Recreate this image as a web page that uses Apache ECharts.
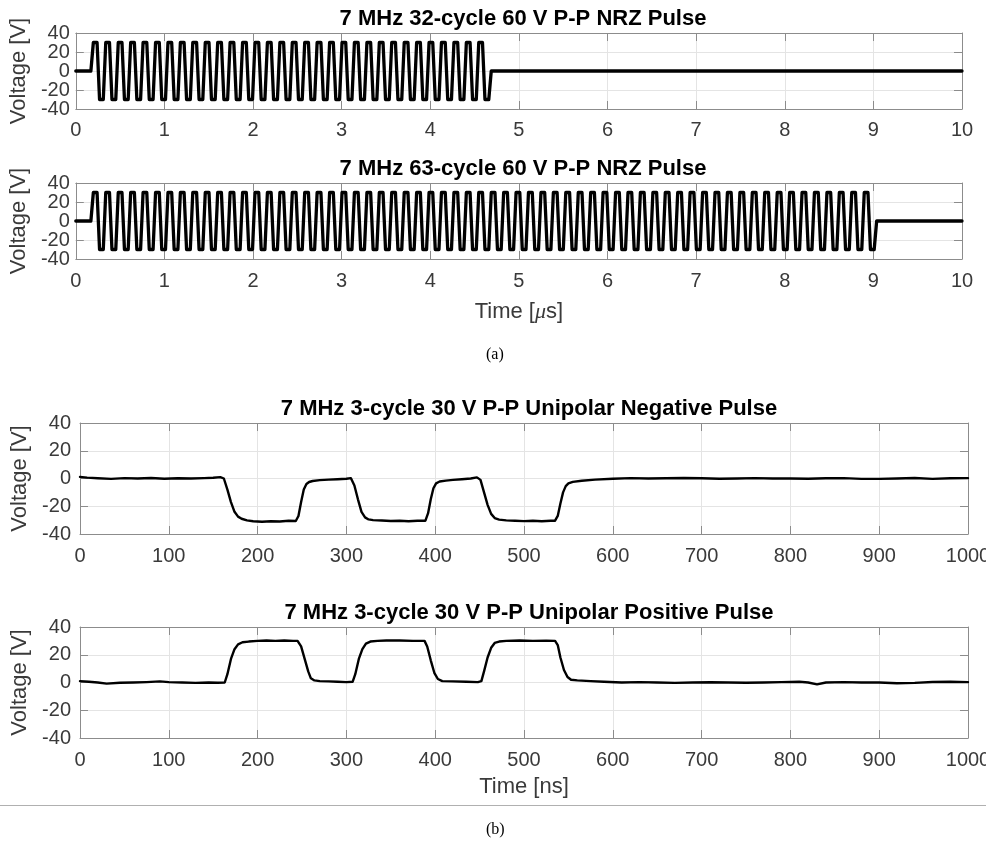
<!DOCTYPE html>
<html><head><meta charset="utf-8">
<script src="https://cdn.jsdelivr.net/npm/echarts@6/dist/echarts.min.js"></script>
<style>html,body{margin:0;padding:0;background:#fff}#c{width:995px;height:851px}</style>
</head><body><div id="c"></div>
<script>
// ---------- DATA ----------
const titles = [
  '7 MHz 32-cycle 60 V P-P NRZ Pulse',
  '7 MHz 63-cycle 60 V P-P NRZ Pulse',
  '7 MHz 3-cycle 30 V P-P Unipolar Negative Pulse',
  '7 MHz 3-cycle 30 V P-P Unipolar Positive Pulse'
];
const usTicks = [0, 10, 1];      // min, max, step (µs)
const nsTicks = [0, 1000, 100];  // min, max, step (ns)
const voltTicks = [-40, 40, 20];

// NRZ switching instants (µs)
const nrz63Edges = [
 0.170, 0.240, 0.310, 0.380, 0.451, 0.521, 0.591, 0.661, 0.731, 0.801,
 0.872, 0.942, 1.012, 1.082, 1.152, 1.222, 1.292, 1.363, 1.433, 1.503,
 1.573, 1.643, 1.713, 1.783, 1.854, 1.924, 1.994, 2.064, 2.134, 2.204,
 2.275, 2.345, 2.415, 2.485, 2.555, 2.625, 2.695, 2.766, 2.836, 2.906,
 2.976, 3.046, 3.116, 3.186, 3.257, 3.327, 3.397, 3.467, 3.537, 3.607,
 3.678, 3.748, 3.818, 3.888, 3.958, 4.028, 4.098, 4.169, 4.239, 4.309,
 4.379, 4.449, 4.519, 4.589, 4.660, 4.730, 4.800, 4.870, 4.940, 5.010,
 5.080, 5.151, 5.221, 5.291, 5.361, 5.431, 5.501, 5.572, 5.642, 5.712,
 5.782, 5.852, 5.922, 5.992, 6.063, 6.133, 6.203, 6.273, 6.343, 6.413,
 6.484, 6.554, 6.624, 6.694, 6.764, 6.834, 6.904, 6.975, 7.045, 7.115,
 7.185, 7.255, 7.325, 7.395, 7.466, 7.536, 7.606, 7.676, 7.746, 7.816,
 7.887, 7.957, 8.027, 8.097, 8.167, 8.237, 8.307, 8.378, 8.448, 8.518,
 8.588, 8.658, 8.728, 8.798, 8.869, 8.939, 9.009
];
const nrz32Edges = [
 0.170, 0.240, 0.310, 0.380, 0.451, 0.521, 0.591, 0.661, 0.731, 0.801,
 0.872, 0.942, 1.012, 1.082, 1.152, 1.222, 1.292, 1.363, 1.433, 1.503,
 1.573, 1.643, 1.713, 1.783, 1.854, 1.924, 1.994, 2.064, 2.134, 2.204,
 2.275, 2.345, 2.415, 2.485, 2.555, 2.625, 2.695, 2.766, 2.836, 2.906,
 2.976, 3.046, 3.116, 3.186, 3.257, 3.327, 3.397, 3.467, 3.537, 3.607,
 3.678, 3.748, 3.818, 3.888, 3.958, 4.028, 4.098, 4.169, 4.239, 4.309,
 4.379, 4.449, 4.519, 4.589, 4.660
];
// voltage level (V) held before the first edge, between edges, and after the last
const nrz32Levels = [0,
 30,-30,30,-30,30,-30,30,-30,30,-30,30,-30,30,-30,30,-30,
 30,-30,30,-30,30,-30,30,-30,30,-30,30,-30,30,-30,30,-30,
 30,-30,30,-30,30,-30,30,-30,30,-30,30,-30,30,-30,30,-30,
 30,-30,30,-30,30,-30,30,-30,30,-30,30,-30,30,-30,30,-30,
 0];
const nrz63Levels = [0,
 30,-30,30,-30,30,-30,30,-30,30,-30,30,-30,30,-30,30,-30,
 30,-30,30,-30,30,-30,30,-30,30,-30,30,-30,30,-30,30,-30,
 30,-30,30,-30,30,-30,30,-30,30,-30,30,-30,30,-30,30,-30,
 30,-30,30,-30,30,-30,30,-30,30,-30,30,-30,30,-30,30,-30,
 30,-30,30,-30,30,-30,30,-30,30,-30,30,-30,30,-30,30,-30,
 30,-30,30,-30,30,-30,30,-30,30,-30,30,-30,30,-30,30,-30,
 30,-30,30,-30,30,-30,30,-30,30,-30,30,-30,30,-30,30,-30,
 30,-30,30,-30,30,-30,30,-30,30,-30,30,-30,30,-30,
 0];
const nrzEdgeTime = 0.028; // µs transition duration

// Unipolar negative pulse (ns, V)
const negTime = [
 0, 8, 20, 35, 50, 65, 80, 95, 110, 125,
 140, 150, 158, 162, 166, 170, 174, 178, 182, 188,
 195, 205, 215, 225, 235, 243, 246, 249, 252, 255,
 258, 262, 270, 280, 290, 300, 305, 309, 313, 317,
 321, 325, 330, 340, 350, 360, 370, 380, 389, 392,
 395, 398, 401, 405, 412, 420, 430, 440, 447, 451,
 455, 459, 463, 467, 472, 480, 490, 500, 510, 520,
 530, 535, 538, 541, 544, 547, 550, 555, 565, 580,
 600, 620, 640, 660, 680, 700, 720, 740, 760, 780,
 800, 820, 840, 860, 880, 900, 920, 940, 960, 980,
 1000];
const negVolt = [
 1.2, 0.6, 0.2, -0.3, 0.3, 0, 0.4, -0.2, 0.2, 0,
 0.3, 0.5, 1, 0, -8, -17, -24, -27.5, -29, -30.2,
 -30.8, -31.2, -30.8, -31, -30.5, -30.6, -27, -17, -8, -4,
 -2.5, -1.8, -1.2, -0.8, -0.5, -0.2, 0.3, -5, -15, -24,
 -28, -29.5, -30, -30.3, -30.6, -30.4, -30.8, -30.5, -30.4, -25,
 -15, -7, -3.5, -2.2, -1.5, -1, -0.5, 0, 0.8, -1,
 -10, -19, -25.5, -28.5, -29.6, -30.2, -30.4, -30.7, -30.4, -30.8,
 -30.5, -30.4, -27, -18, -10, -5.5, -3.5, -2.4, -1.6, -0.8,
 -0.2, 0.3, 0, 0.2, 0.4, 0.2, -0.2, 0, 0.3, 0,
 0, -0.2, 0.2, 0.3, -0.3, -0.3, 0, 0.4, -0.3, 0.2,
 0.3];

// Unipolar positive pulse (ns, V)
const posTime = [
 0, 10, 20, 30, 45, 60, 75, 90, 100, 115,
 130, 145, 155, 163, 166, 170, 174, 178, 183, 190,
 200, 210, 220, 230, 240, 245, 249, 253, 257, 260,
 264, 270, 280, 290, 300, 307, 310, 314, 318, 322,
 327, 335, 345, 360, 375, 388, 391, 395, 399, 403,
 408, 420, 435, 448, 452, 455, 459, 463, 467, 472,
 480, 495, 510, 525, 535, 538, 541, 545, 549, 553,
 560, 575, 590, 610, 630, 650, 670, 690, 710, 730,
 750, 770, 790, 810, 820, 830, 840, 860, 880, 900,
 920, 940, 960, 980, 1000];
const posVolt = [
 1, 0.5, 0, -0.8, -0.2, 0, 0.3, 0.8, 0.3, 0,
 -0.3, 0, -0.2, 0, 6, 17, 24, 27.5, 29, 29.5,
 30, 30.3, 30, 30.3, 30, 30, 26, 17, 8, 3,
 1.5, 1, 0.8, 0.5, 0.3, 0.5, 6, 17, 24, 28,
 29.5, 30, 30.3, 30.3, 30, 30, 26, 16, 7, 2.5,
 1, 0.8, 0.5, 0.3, 1, 8, 18, 25, 28.5, 29.5,
 30, 30.3, 30, 30.2, 30, 27, 18, 9, 4, 2,
 1.5, 1, 0.5, 0, 0.3, 0, -0.3, 0, 0.2, 0,
 -0.2, 0, 0.3, 0.5, 0, -1.3, 0, 0.3, 0, 0,
 -0.5, -0.3, 0.4, 0.5, 0.3];

// ---------- BUILD ----------
function nrzPoints(edges, levels, tEnd, dt) {
  const pts = [[0, levels[0]]];
  for (let i = 0; i < edges.length; i++) {
    pts.push([edges[i], levels[i]]);
    pts.push([edges[i] + dt, levels[i + 1]]);
  }
  pts.push([tEnd, levels[levels.length - 1]]);
  return pts;
}
function zip(a, b) { return a.map((t, i) => [t, b[i]]); }

const FONT = '"Liberation Sans", Arial, Helvetica, sans-serif';
const AX = '#8c8c8c';
const LBL = '#3a3a3a';

const grids = [
  {left: 74, top: 33, width: 888, height: 76},
  {left: 74, top: 183, width: 888, height: 76},
  {left: 80, top: 423, width: 888, height: 111},
  {left: 80, top: 627, width: 888, height: 111}
];
const xCfg = [usTicks, usTicks, nsTicks, nsTicks];
const xNames = ['', 'Time [{i|\u03bc}s]', '', 'Time [ns]'];
const xLabelMargin = [11, 12, 12, 12];
const yNameGap = [44, 44, 46, 46];
const yLabelMargin = [6, 6, 9, 9];

const labelStyle = {color: LBL, fontSize: 20, fontFamily: FONT};
const xAxis = [], yAxis = [], title = [];
grids.forEach((g, i) => {
  const xc = xCfg[i];
  xAxis.push({
    type: 'value', gridIndex: i, position: 'bottom', min: xc[0], max: xc[1], interval: xc[2],
    axisLine: {show: true, onZero: false, lineStyle: {color: AX, width: 1}},
    axisTick: {show: true, inside: true, length: 8, lineStyle: {color: AX}},
    splitLine: {show: true, lineStyle: {color: '#e4e4e4', width: 1}},
    axisLabel: Object.assign({show: true, margin: xLabelMargin[i],
      showMinLabel: true, showMaxLabel: true, formatter: v => String(v)}, labelStyle),
    name: xNames[i], nameLocation: 'middle', nameGap: i === 1 ? 42 : 38,
    nameTextStyle: {color: LBL, fontSize: 22, fontFamily: FONT,
      rich: {i: {fontStyle: 'italic', color: LBL, fontSize: 22, fontFamily: '"Liberation Serif", serif'}}}
  });
  xAxis.push({
    type: 'value', gridIndex: i, position: 'top', min: xc[0], max: xc[1], interval: xc[2],
    axisLine: {show: true, onZero: false, lineStyle: {color: AX, width: 1}},
    axisTick: {show: true, inside: true, length: 8, lineStyle: {color: AX}},
    splitLine: {show: false}, axisLabel: {show: false}
  });
  // main left axis: ticks, grid, inner labels
  yAxis.push({
    type: 'value', gridIndex: i, position: 'left', min: voltTicks[0], max: voltTicks[1], interval: voltTicks[2],
    axisLine: {show: true, onZero: false, lineStyle: {color: AX, width: 1}},
    axisTick: {show: true, inside: true, length: 8, lineStyle: {color: AX}},
    splitLine: {show: true, lineStyle: {color: '#e4e4e4', width: 1}},
    axisLabel: Object.assign({show: true, margin: yLabelMargin[i],
      showMinLabel: false, showMaxLabel: false, formatter: v => String(v)}, labelStyle),
    name: 'Voltage [V]', nameLocation: 'middle', nameGap: yNameGap[i],
    nameTextStyle: {color: LBL, fontSize: 22, fontFamily: FONT}
  });
  // right box axis
  yAxis.push({
    type: 'value', gridIndex: i, position: 'right', min: voltTicks[0], max: voltTicks[1], interval: voltTicks[2],
    axisLine: {show: true, onZero: false, lineStyle: {color: AX, width: 1}},
    axisTick: {show: true, inside: true, length: 8, lineStyle: {color: AX}},
    splitLine: {show: false}, axisLabel: {show: false}
  });
  // helper left axis carrying only the end labels (min / max)
  yAxis.push({
    type: 'value', gridIndex: i, position: 'left', offset: 0,
    min: voltTicks[0], max: voltTicks[1], interval: voltTicks[1] - voltTicks[0],
    axisLine: {show: false, onZero: false}, axisTick: {show: false}, splitLine: {show: false},
    axisLabel: Object.assign({show: true, margin: yLabelMargin[i],
      showMinLabel: true, showMaxLabel: true, formatter: v => String(v)}, labelStyle)
  });
  title.push({
    text: titles[i], left: g.left + g.width / 2, top: g.top - 30, textAlign: 'center',
    textStyle: {color: '#000', fontWeight: 'bold', fontSize: 22, fontFamily: FONT}
  });
});

const seriesData = [
  nrzPoints(nrz32Edges, nrz32Levels, usTicks[1], nrzEdgeTime),
  nrzPoints(nrz63Edges, nrz63Levels, usTicks[1], nrzEdgeTime),
  zip(negTime, negVolt),
  zip(posTime, posVolt)
];
const widths = [3.3, 3.3, 2.4, 2.4];
const series = seriesData.map((d, i) => ({
  type: 'line', xAxisIndex: 2 * i, yAxisIndex: 3 * i, data: d,
  showSymbol: false, symbol: 'none', smooth: false, clip: true,
  lineStyle: {color: '#000', width: widths[i], join: 'round', cap: 'round'}, z: 5
}));

const chart = echarts.init(document.getElementById('c'), null, {renderer: 'canvas'});
chart.setOption({
  backgroundColor: '#fff',
  animation: false,
  title: title,
  grid: grids.map(g => Object.assign({containLabel: false}, g)),
  xAxis: xAxis,
  yAxis: yAxis,
  series: series,
  graphic: [
    {type: 'text', left: 486, top: 347, style: {text: '(a)', fill: '#000', font: '16px "Liberation Serif", serif'}},
    {type: 'text', left: 486, top: 822, style: {text: '(b)', fill: '#000', font: '16px "Liberation Serif", serif'}},
    {type: 'line', shape: {x1: 0, y1: 805.5, x2: 986, y2: 805.5}, style: {stroke: '#b0b0b0', lineWidth: 1}},
    {type: 'rect', shape: {x: 986, y: 0, width: 9, height: 851}, style: {fill: '#fff'}, z: 100}
  ]
});
</script></body></html>
